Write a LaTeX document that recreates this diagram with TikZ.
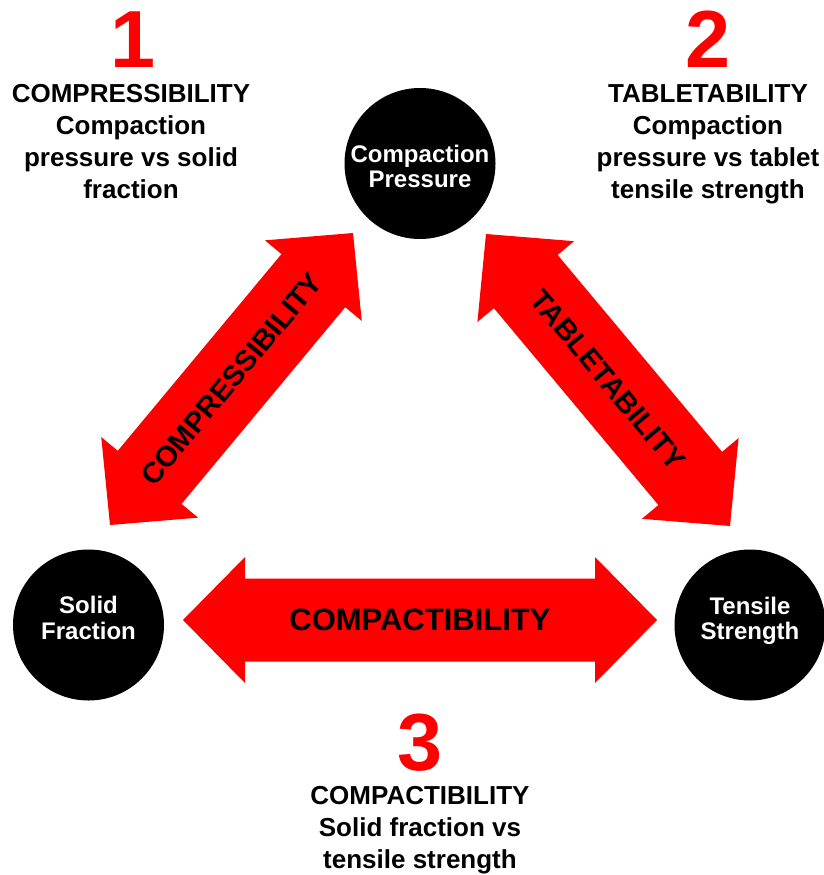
\documentclass[tikz,border=0pt]{standalone}
\usepackage{fontspec}
\setmainfont{Liberation Sans}
\usepackage{tikz}
\usetikzlibrary{calc}
\definecolor{arrowred}{RGB}{255,0,0}
\newcommand{\fatarrow}[4]
{
\path ($(#1)!62pt!(#2)$) coordinate(ha);
\path ($(#2)!62pt!(#1)$) coordinate(hb);
\fill[arrowred] (#1) -- ($(ha)!63pt!90:(#2)$) -- ($(ha)!41.5pt!90:(#2)$)
 -- ($(hb)!41.5pt!-90:(#1)$) -- ($(hb)!63pt!-90:(#1)$) -- (#2)
 -- ($(hb)!63pt!90:(#1)$) -- ($(hb)!41.5pt!90:(#1)$)
 -- ($(ha)!41.5pt!-90:(#2)$) -- ($(ha)!63pt!-90:(#2)$) -- cycle;
\path (#1) -- node[arrlabel,sloped,font=\bfseries\fontsize{#4}{#4}\selectfont]{#3} (#2);
}
\tikzstyle{circ}=[circle, fill=black, minimum size=151pt, inner sep=0pt]
\tikzstyle{circtext}=[text=white, font=\bfseries\fontsize{24}{25.5}\selectfont, align=center, inner sep=0pt]
\tikzstyle{arrlabel}=[text=black, inner sep=0pt]
\tikzstyle{caption}=[font=\bfseries\fontsize{26}{32}\selectfont, align=center, inner sep=0pt, anchor=north]
\tikzstyle{num}=[font=\bfseries\fontsize{81}{81}\selectfont, text=arrowred, inner sep=0pt, anchor=base]

\begin{document}
\begin{tikzpicture}[x=1pt,y=-1pt]
\useasboundingbox (0,0) rectangle (823,875);
% tips of the fat arrows
\coordinate (cl1) at (110,525);
\coordinate (cl2) at (353,233);
\coordinate (tb1) at (486,234);
\coordinate (tb2) at (730,526);
\coordinate (cp1) at (183,620);
\coordinate (cp2) at (657,620);
\fatarrow{cl1}{cl2}{COMPRESSIBILITY}{29}
\fatarrow{tb1}{tb2}{TABLETABILITY}{29}
\fatarrow{cp1}{cp2}{COMPACTIBILITY}{31}
% the three quantities
\node[circ] (press) at (420,163.5) {};
\node[circ] (solid) at (88.5,625) {};
\node[circ] (tensile) at (750,625) {};
\node[circtext] (presstxt) at ([yshift=-3pt]press.center) {Compaction\\Pressure};
\node[circtext] (solidtxt) at ([yshift=7pt]solid.center) {Solid\\Fraction};
\node[circtext] (tensiletxt) at ([yshift=4pt]tensile.center) {Tensile\\Strength};
% numbered captions
\node[num] (n1) at (133,67) {1};
\node[caption] (c1) at (131,84) {COMPRESSIBILITY\\Compaction\\pressure vs solid\\fraction};
\node[num] (n2) at (708,67) {2};
\node[caption] (c2) at (708,84) {TABLETABILITY\\Compaction\\pressure vs tablet\\tensile strength};
\node[num] (n3) at (420,770) {3};
\node[caption] (c3) at (420,786) {COMPACTIBILITY\\Solid fraction vs\\tensile strength};
\end{tikzpicture}
\end{document}
